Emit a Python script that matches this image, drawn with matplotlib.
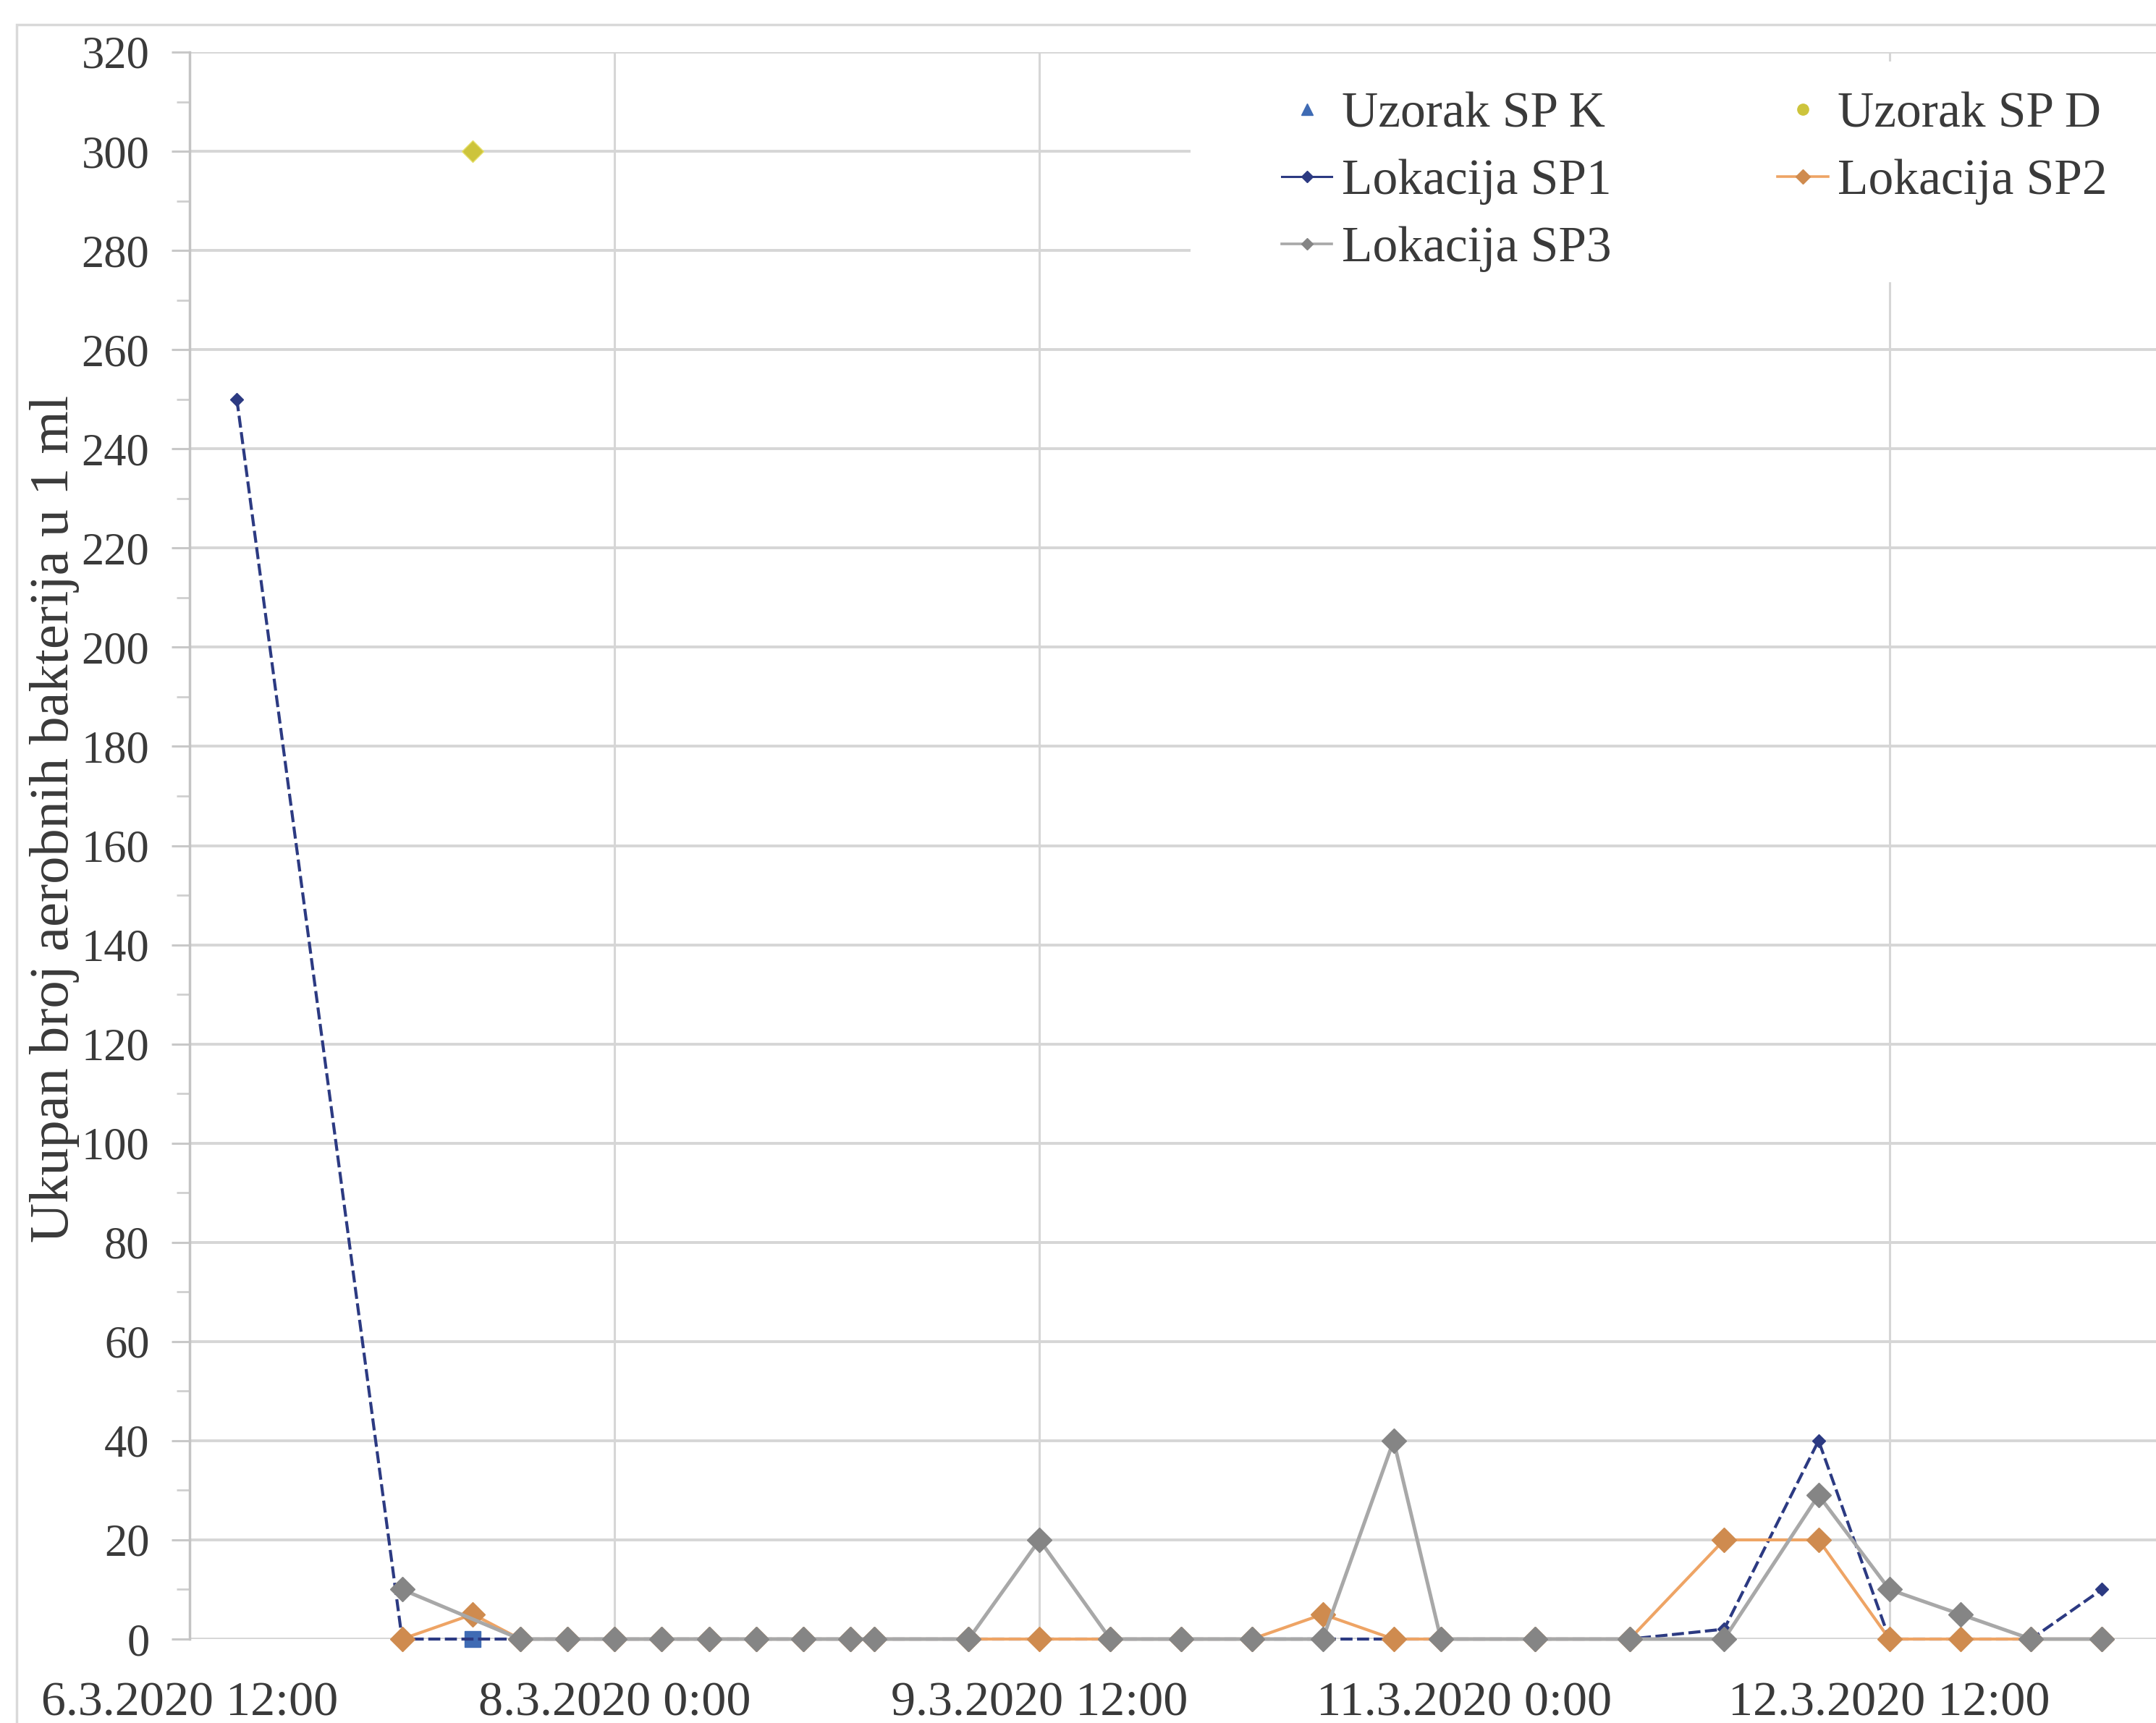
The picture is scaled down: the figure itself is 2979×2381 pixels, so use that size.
import numpy as np
import pandas as pd
import matplotlib as mpl
import matplotlib.pyplot as plt
import matplotlib.dates as mdates
from matplotlib.lines import Line2D
from matplotlib.patches import Rectangle
from matplotlib.ticker import MultipleLocator, FuncFormatter

mpl.rcParams['font.family'] = ['Liberation Serif', 'DejaVu Serif']

# ---- data ----
times_sp1 = ['2020-03-06 16:00', '2020-03-07 06:00', '2020-03-07 16:00', '2020-03-07 20:00',
             '2020-03-08 00:00', '2020-03-08 04:00', '2020-03-08 08:00', '2020-03-08 12:00',
             '2020-03-08 16:00', '2020-03-08 20:00', '2020-03-08 22:00', '2020-03-09 06:00',
             '2020-03-09 12:00', '2020-03-09 18:00', '2020-03-10 00:00', '2020-03-10 06:00',
             '2020-03-10 12:00', '2020-03-10 18:00', '2020-03-10 22:00', '2020-03-11 06:00',
             '2020-03-11 14:00', '2020-03-11 22:00', '2020-03-12 06:00', '2020-03-12 12:00',
             '2020-03-12 18:00', '2020-03-13 00:00', '2020-03-13 06:00']
sp1 = [250, 0, 0, 0, 0, 0, 0, 0, 0, 0, 0, 0, 0, 0, 0, 0, 0, 0, 0, 0, 0, 2, 40, 0, 0, 0, 10]

times_sp2 = ['2020-03-07 06:00', '2020-03-07 12:00', '2020-03-07 16:00', '2020-03-07 20:00',
             '2020-03-08 00:00', '2020-03-08 04:00', '2020-03-08 08:00', '2020-03-08 12:00',
             '2020-03-08 16:00', '2020-03-08 20:00', '2020-03-08 22:00', '2020-03-09 06:00',
             '2020-03-09 12:00', '2020-03-09 18:00', '2020-03-10 00:00', '2020-03-10 06:00',
             '2020-03-10 12:00', '2020-03-10 18:00', '2020-03-10 22:00', '2020-03-11 06:00',
             '2020-03-11 14:00', '2020-03-11 22:00', '2020-03-12 06:00', '2020-03-12 12:00',
             '2020-03-12 18:00', '2020-03-13 00:00', '2020-03-13 06:00']
sp2 = [0, 5, 0, 0, 0, 0, 0, 0, 0, 0, 0, 0, 0, 0, 0, 0, 5, 0, 0, 0, 0, 20, 20, 0, 0, 0, 0]

times_sp3 = ['2020-03-07 06:00', '2020-03-07 16:00', '2020-03-07 20:00',
             '2020-03-08 00:00', '2020-03-08 04:00', '2020-03-08 08:00', '2020-03-08 12:00',
             '2020-03-08 16:00', '2020-03-08 20:00', '2020-03-08 22:00', '2020-03-09 06:00',
             '2020-03-09 12:00', '2020-03-09 18:00', '2020-03-10 00:00', '2020-03-10 06:00',
             '2020-03-10 12:00', '2020-03-10 18:00', '2020-03-10 22:00', '2020-03-11 06:00',
             '2020-03-11 14:00', '2020-03-11 22:00', '2020-03-12 06:00', '2020-03-12 12:00',
             '2020-03-12 18:00', '2020-03-13 00:00', '2020-03-13 06:00']
sp3 = [10, 0, 0, 0, 0, 0, 0, 0, 0, 0, 0, 20, 0, 0, 0, 0, 40, 0, 0, 0, 0, 29, 10, 5, 0, 0]

times_k = ['2020-03-07 12:00']
spk = [0]
times_d = ['2020-03-07 12:00']
spd = [300]

xtick_dates = ['2020-03-06 12:00', '2020-03-08 00:00', '2020-03-09 12:00',
               '2020-03-11 00:00', '2020-03-12 12:00']
vgrid_dates = ['2020-03-08 00:00', '2020-03-09 12:00', '2020-03-12 12:00']

ylab = 'Ukupan broj aerobnih bakterija u 1 ml'
names = ['Uzorak SP K', 'Lokacija SP1', 'Lokacija SP3', 'Uzorak SP D', 'Lokacija SP2']

# colours
c_k = '#3f6bb4'
c_d = '#cdc43c'
c_sp1 = '#2c3a82'
c_sp2_line = '#eea465'
c_sp2 = '#cf8b4f'
c_sp3_line = '#a8a8a8'
c_sp3 = '#858585'
grid_c = '#d6d6d6'
txt_c = '#3a3a3a'

# ---- figure ----
W, H = 2979, 2381
fs = 45
fig = plt.figure(figsize=(W/100, H/100), dpi=100)
x0, y0, y1 = 262, 2265, 72
ax = fig.add_axes([x0/W, (H-y0)/H, (W-x0)/W, (y0-y1)/H])

t0 = pd.Timestamp('2020-03-06 12:00')
px_per_h = 16.31
t1 = t0 + pd.Timedelta(hours=(W-x0)/px_per_h)
ax.set_xlim(t0, t1)
ax.set_ylim(0, 320)

# outer chart border
fig.patches.append(Rectangle((23/W, -0.1), 2, 1-34/H+0.1, transform=fig.transFigure,
                             fill=False, ec='#d9d9d9', lw=2.5, zorder=0))

# gridlines
ax.set_axisbelow(True)
ax.yaxis.set_major_locator(MultipleLocator(20))
ax.yaxis.set_minor_locator(MultipleLocator(10))
ax.yaxis.grid(True, which='major', color=grid_c, lw=2.8)
for d in vgrid_dates:
    ax.axvline(pd.Timestamp(d), color=grid_c, lw=2.2, zorder=0.6)

# white area behind the legend
ax.add_patch(Rectangle((0.509, 0.855), 0.6, 0.139, transform=ax.transAxes,
                       fc='white', ec='none', zorder=1))

ms_big = 17
ax.plot(pd.to_datetime(times_k), spk, ls='none', marker='s', ms=16, color=c_k,
        zorder=3, clip_on=False)
ax.plot(pd.to_datetime(times_d), spd, ls='none', marker='D', ms=15, color=c_d,
        mec='#e6df6a', zorder=3, clip_on=False)
ax.plot(pd.to_datetime(times_sp1), sp1, ls=(0, (4, 1.5)), lw=3.0, color=c_sp1,
        marker='D', ms=9, zorder=4, clip_on=False)
ax.plot(pd.to_datetime(times_sp2), sp2, ls='-', lw=3.0, color=c_sp2_line,
        marker='D', ms=ms_big, mfc=c_sp2, mec=c_sp2, zorder=5, clip_on=False)
ax.plot(pd.to_datetime(times_sp3), sp3, ls='-', lw=3.6, color=c_sp3_line,
        marker='D', ms=ms_big, mfc=c_sp3, mec=c_sp3, zorder=6, clip_on=False)

# axes styling
for s in ['top', 'right', 'bottom']:
    ax.spines[s].set_visible(False)
ax.spines['left'].set_color('#c4c4c4')
ax.spines['left'].set_linewidth(2.5)

ax.set_xticks(pd.to_datetime(xtick_dates))
ax.xaxis.set_major_formatter(FuncFormatter(
    lambda v, p: (lambda d: f'{d.day}.{d.month}.{d.year} {d.hour}:{d.minute:02d}')(mdates.num2date(v))))
ax.tick_params(axis='x', length=0, pad=42, labelsize=49, labelcolor=txt_c)
ax.tick_params(axis='y', which='major', length=18, width=2.2, color='#c8c8c8',
               pad=22, labelsize=fs, labelcolor=txt_c)
ax.tick_params(axis='y', which='minor', length=13, width=2.0, color='#cfcfcf')

ax.set_ylabel(ylab, fontsize=55, color=txt_c)
ax.yaxis.set_label_coords(-0.056, 0.517)

# legend
handles = [
    Line2D([], [], ls='none', marker='^', ms=12, color=c_k),
    Line2D([], [], ls='-', lw=2.2, color=c_sp1, marker='D', ms=8),
    Line2D([], [], ls='-', lw=2.6, color=c_sp3_line, marker='D', ms=8, mfc=c_sp3, mec=c_sp3),
    Line2D([], [], ls='none', marker='o', ms=11, color=c_d),
    Line2D([], [], ls='-', lw=2.6, color=c_sp2_line, marker='D', ms=10, mfc=c_sp2, mec=c_sp2),
]
fig.legend(handles, names, ncol=2, loc='upper left', bbox_to_anchor=(1771/W, 1-127/H),
           frameon=False, fontsize=50, labelcolor=txt_c, handlelength=1.0,
           handletextpad=0.2, labelspacing=0.42, columnspacing=3.3, borderpad=0,
           borderaxespad=0)

fig.savefig('out.png', dpi=100)
